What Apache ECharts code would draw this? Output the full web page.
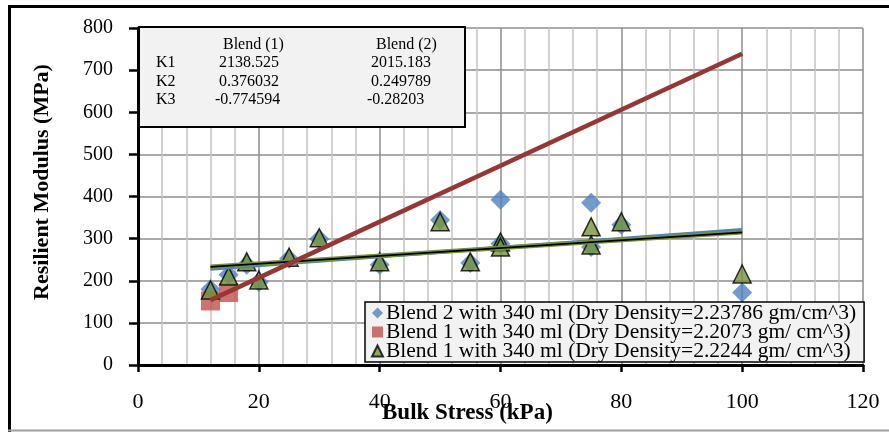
<!DOCTYPE html>
<html>
<head>
<meta charset="utf-8">
<script src="https://cdn.jsdelivr.net/npm/echarts@6/dist/echarts.min.js"></script>
<style>html,body{margin:0;padding:0;background:#fff;}#c{width:889px;height:432px;}</style>
</head>
<body>
<div id="c"></div>
<script>
// ---- data ----
const seriesNames = [
  'Blend 2 with 340 ml (Dry Density=2.23786 gm/cm^3)',
  'Blend 1 with 340 ml (Dry Density=2.2073 gm/ cm^3)',
  'Blend 1 with 340 ml (Dry Density=2.2244 gm/ cm^3)'
];
const blend2X = [12, 15, 18, 20, 25, 30, 40, 50, 55, 60, 60, 75, 75, 80, 100];
const blend2Y = [180, 214, 238, 197, 252, 299, 238, 344, 242, 392, 288, 385, 280, 333, 172];
const blend1aX = [12, 15];
const blend1aY = [152, 172];
const blend1bX = [12, 15, 18, 20, 25, 30, 40, 50, 55, 60, 60, 75, 75, 80, 100];
const blend1bY = [178, 211, 245, 202, 256, 302, 245, 340, 245, 292, 280, 328, 285, 340, 216];
// trend lines (end points)
const trendRedX = [12, 100];
const trendRedY = [154, 739];
const trendBlueX = [12, 100];
const trendBlueY = [228, 321];
const trendGreenX = [12, 100];
const trendGreenY = [233, 315];
// table
const tableHeaders = ['Blend (1)', 'Blend (2)'];
const tableRows = ['K1', 'K2', 'K3'];
const tableBlend1 = ['2138.525', '0.376032', '-0.774594'];
const tableBlend2 = ['2015.183', '0.249789', '-0.28203'];
const xTicks = {min: 0, max: 120, interval: 20};
const yTicks = {min: 0, max: 800, interval: 100};

const zip = (xs, ys) => xs.map((x, i) => [x, ys[i]]);
const FONT = '"Liberation Serif", "Times New Roman", serif';

const chart = echarts.init(document.getElementById('c'));

const tableTexts = [];
const rowY = [63, 82, 100];
const TF = '16px ' + FONT;
const txt = (text, x, y) => ({type: 'text', x: x, y: y, z: 51,
  style: {text: text, font: TF, fill: '#000', verticalAlign: 'middle'}});
tableTexts.push(txt(tableHeaders[0], 223, 45));
tableTexts.push(txt(tableHeaders[1], 376, 45));
tableRows.forEach((r, i) => {
  tableTexts.push(txt(r, 156, rowY[i]));
  tableTexts.push(txt(tableBlend1[i], tableBlend1[i].startsWith('-') ? 215 : 219, rowY[i]));
  tableTexts.push(txt(tableBlend2[i], tableBlend2[i].startsWith('-') ? 367 : 371, rowY[i]));
});

chart.setOption({
  animation: false,
  backgroundColor: '#fff',
  grid: {left: 138, right: 26, top: 28, bottom: 67, containLabel: false},
  xAxis: {
    type: 'value', min: xTicks.min, max: xTicks.max, interval: xTicks.interval,
    axisLine: {show: true, onZero: false, lineStyle: {color: '#000', width: 3}},
    axisTick: {show: true, inside: false, length: 7, lineStyle: {color: '#000', width: 2.5}},
    minorTick: {show: false, splitNumber: 5},
    splitLine: {show: true, lineStyle: {color: '#8c8c8c', width: 1.5}},
    minorSplitLine: {show: true, lineStyle: {color: '#c4c4c4', width: 1.5}},
    axisLabel: {margin: 26, fontFamily: FONT, fontSize: 22, color: '#000'}
  },
  yAxis: {
    type: 'value', min: yTicks.min, max: yTicks.max, interval: yTicks.interval,
    axisLine: {show: true, onZero: false, lineStyle: {color: '#000', width: 3}},
    axisTick: {show: true, inside: false, length: 9, lineStyle: {color: '#000', width: 2.5}},
    splitLine: {show: true, lineStyle: {color: '#8c8c8c', width: 1.5}},
    axisLabel: {margin: 25, fontFamily: FONT, fontSize: 20, color: '#000'}
  },
  legend: {
    orient: 'vertical', left: 365, top: 302,
    data: seriesNames,
    backgroundColor: '#f2f2f2', borderColor: '#000', borderWidth: 1.5, borderRadius: 0,
    padding: [0, 8, 0, 6],
    itemWidth: 11, itemHeight: 11, itemGap: -3,
    textStyle: {fontFamily: FONT, fontSize: 21.5, lineHeight: 18, color: '#000', padding: [0, 0, 0, -2]},
    z: 20
  },
  graphic: [
    {type: 'line', shape: {x1: 9.5, y1: 5, x2: 9.5, y2: 432}, style: {stroke: '#000', lineWidth: 3}, z: 100},
    {type: 'line', shape: {x1: 8, y1: 6.5, x2: 889, y2: 6.5}, style: {stroke: '#000', lineWidth: 3}, z: 100},
    {type: 'line', shape: {x1: 8, y1: 430.5, x2: 889, y2: 430.5}, style: {stroke: '#a0a0a0', lineWidth: 2}, z: 100},
    {type: 'rect', shape: {x: 139, y: 27, width: 326, height: 100}, style: {fill: '#f2f2f2', stroke: '#000', lineWidth: 2}, z: 50},
    {type: 'group', z: 51, children: tableTexts},
    {type: 'text', left: 382, top: 402, z: 60, style: {text: 'Bulk Stress (kPa)', font: 'bold 23px ' + FONT, fill: '#000'}},
    {type: 'text', x: 42, y: 182, rotation: Math.PI / 2, z: 60, style: {text: 'Resilient Modulus (MPa)', font: 'bold 22px ' + FONT, fill: '#000', align: 'center', verticalAlign: 'middle'}}
  ],
  series: [
    {name: seriesNames[0], type: 'scatter', data: zip(blend2X, blend2Y), symbol: 'diamond', symbolSize: 20,
      itemStyle: {color: '#4F81BD'}, z: 2},
    {name: seriesNames[1], type: 'scatter', data: zip(blend1aX, blend1aY), symbol: 'rect', symbolSize: 19,
      itemStyle: {color: '#C0504D'}, z: 3},
    {name: seriesNames[2], type: 'scatter', data: zip(blend1bX, blend1bY), symbol: 'triangle', symbolSize: 18,
      itemStyle: {color: '#77933C', borderColor: '#000', borderWidth: 1.5}, z: 4},
    {type: 'line', data: zip(trendBlueX, trendBlueY), showSymbol: false, symbol: 'none', silent: true,
      lineStyle: {color: '#4F81BD', width: 3.5}, z: 5},
    {type: 'line', data: zip(trendGreenX, trendGreenY), showSymbol: false, symbol: 'none', silent: true,
      lineStyle: {color: '#77933C', width: 4.5}, z: 6},
    {type: 'line', data: zip(trendGreenX, trendGreenY), showSymbol: false, symbol: 'none', silent: true,
      lineStyle: {color: '#000', width: 1.8}, z: 7},
    {type: 'line', data: zip(trendRedX, trendRedY), showSymbol: false, symbol: 'none', silent: true,
      lineStyle: {color: '#953735', width: 4.5}, z: 8}
  ]
});
</script>
</body>
</html>
